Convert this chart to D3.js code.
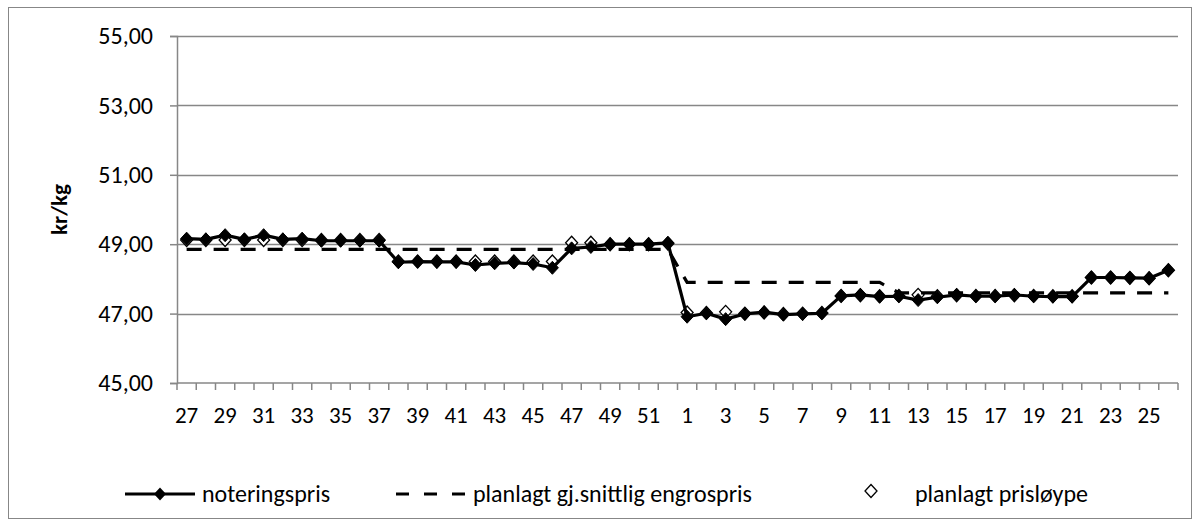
<!DOCTYPE html>
<html lang="no">
<head>
<meta charset="utf-8">
<title>Noteringspris</title>
<script src="https://cdn.jsdelivr.net/npm/d3@7"></script>
<style>
  body { margin: 0; background: #fff; }
  text { font-family: Carlito, Lato, sans-serif; fill: #000; }
</style>
</head>
<body>
<script>
// weeks: 27..52 then 1..26
var weeks = ["27","28","29","30","31","32","33","34","35","36","37","38","39","40","41","42","43","44","45","46","47","48","49","50","51","52",
             "1","2","3","4","5","6","7","8","9","10","11","12","13","14","15","16","17","18","19","20","21","22","23","24","25","26"];

var noteringspris = [49.16,49.14,49.26,49.14,49.26,49.14,49.16,49.10,49.10,49.10,49.10,48.48,48.50,48.49,48.49,48.40,48.45,48.47,48.43,48.32,48.88,48.92,49.00,49.00,49.00,49.04,
                     46.91,47.01,46.84,46.99,47.04,46.97,46.99,47.01,47.51,47.54,47.49,47.50,47.39,47.47,47.54,47.50,47.50,47.54,47.50,47.49,47.49,48.04,48.04,48.03,48.02,48.25];

var engrospris = [48.85,48.85,48.85,48.85,48.85,48.85,48.85,48.85,48.85,48.85,48.85,48.85,48.85,48.85,48.85,48.85,48.85,48.85,48.85,48.85,48.85,48.85,48.85,48.85,48.85,48.85,
                  47.90,47.90,47.90,47.90,47.90,47.90,47.90,47.90,47.90,47.90,47.90,47.60,47.60,47.60,47.60,47.60,47.60,47.60,47.60,47.60,47.60,47.60,47.60,47.60,47.60,47.60];

var prisloype = [49.12,49.12,49.12,49.12,49.12,49.12,49.12,49.12,49.12,49.12,49.12,48.50,48.50,48.50,48.50,48.50,48.50,48.50,48.50,48.50,49.04,49.04,49.00,49.00,49.00,49.02,
                 47.03,47.02,47.05,47.00,47.03,46.99,47.00,47.02,47.51,47.53,47.50,47.51,47.54,47.50,47.53,47.51,47.51,47.53,47.51,47.50,47.50,48.04,48.04,48.03,48.02,48.25];

var yTicks = [45, 47, 49, 51, 53, 55];

var w = 1200, h = 527;
var pLeft = 177, pRight = 1178, pTop = 36, pBottom = 383;
var grey = "#878787";

var locale = d3.formatLocale({decimal: ",", thousands: " ", grouping: [3], currency: ["", " kr"]});
var fmt = locale.format(".2f");

var svg = d3.select("body").append("svg").attr("width", w).attr("height", h);

// chart border
svg.append("rect").attr("x", 8.5).attr("y", 7.5).attr("width", 1183).attr("height", 511)
  .attr("fill", "#fff").attr("stroke", grey).attr("stroke-width", 1);

var x = d3.scaleBand().domain(d3.range(weeks.length)).range([pLeft, pRight]).padding(0);
var y = d3.scaleLinear().domain([45, 55]).range([pBottom, pTop]);
var cx = function(i) { return x(i) + x.bandwidth() / 2; };

// gridlines
svg.append("g").selectAll("line").data(yTicks.slice(1)).join("line")
  .attr("x1", pLeft).attr("x2", pRight)
  .attr("y1", function(d) { return Math.round(y(d)) + 0.5; })
  .attr("y2", function(d) { return Math.round(y(d)) + 0.5; })
  .attr("stroke", grey).attr("stroke-width", 1.5);

// y axis
var yAxis = d3.axisLeft(y).tickValues(yTicks).tickFormat(fmt).tickSize(7).tickPadding(17);
var gy = svg.append("g").attr("transform", "translate(" + pLeft + ",0)").call(yAxis);
gy.select(".domain").attr("stroke", grey).attr("stroke-width", 1.5);
gy.selectAll(".tick line").attr("stroke", grey).attr("stroke-width", 1.5);
gy.selectAll(".tick text").attr("font-size", 24).attr("fill", "#000")
  .style("font-family", "Carlito, Lato, sans-serif");

// x axis: ticks at category boundaries
var xb = svg.append("g").attr("transform", "translate(0," + pBottom + ")");
xb.append("line").attr("x1", pLeft).attr("x2", pRight).attr("stroke", grey).attr("stroke-width", 1.5);
xb.selectAll(".xt").data(d3.range(weeks.length + 1)).join("line").attr("class", "xt")
  .attr("x1", function(i) { return i < weeks.length ? x(i) : pRight; })
  .attr("x2", function(i) { return i < weeks.length ? x(i) : pRight; })
  .attr("y1", 0).attr("y2", 7).attr("stroke", grey).attr("stroke-width", 1.5);
xb.selectAll(".xl").data(weeks).join("text").attr("class", "xl")
  .attr("x", function(d, i) { return cx(i); })
  .attr("y", 40).attr("text-anchor", "middle").attr("font-size", 23)
  .text(function(d, i) { return i % 2 === 0 ? d : ""; });

// y title
svg.append("text").attr("transform", "translate(67," + ((pTop + pBottom) / 2) + ") rotate(-90)")
  .attr("text-anchor", "middle").attr("font-size", 23).attr("font-weight", "bold").text("kr/kg");

var diamond = "M0,-6.5L6,0L0,6.5L-6,0Z";

var line = function(vals) {
  return d3.line().x(function(d, i) { return cx(i); }).y(function(d) { return y(d); })(vals);
};

// planlagt prisløype (drawn underneath)
svg.append("g").selectAll("path").data(prisloype).join("path")
  .attr("d", diamond)
  .attr("transform", function(d, i) { return "translate(" + cx(i) + "," + y(d) + ")"; })
  .attr("fill", "#fff").attr("stroke", "#000").attr("stroke-width", 1.3);

// planlagt gj.snittlig engrospris
svg.append("path").attr("d", line(engrospris)).attr("fill", "none")
  .attr("stroke", "#000").attr("stroke-width", 3.2).attr("stroke-dasharray", "15,12");

// noteringspris
svg.append("path").attr("d", line(noteringspris)).attr("fill", "none")
  .attr("stroke", "#000").attr("stroke-width", 3.2).attr("stroke-linejoin", "round");
svg.append("g").selectAll("path").data(noteringspris).join("path")
  .attr("d", diamond)
  .attr("transform", function(d, i) { return "translate(" + cx(i) + "," + y(d) + ")"; })
  .attr("fill", "#000").attr("stroke", "#000").attr("stroke-width", 1);

// legend
var ly = 494;
var lg = svg.append("g");
lg.append("line").attr("x1", 125).attr("x2", 195).attr("y1", ly).attr("y2", ly)
  .attr("stroke", "#000").attr("stroke-width", 3.2);
lg.append("path").attr("d", diamond).attr("transform", "translate(160," + ly + ")").attr("fill", "#000");
lg.append("text").attr("x", 202).attr("y", ly + 8).attr("font-size", 24).text("noteringspris");

lg.append("line").attr("x1", 396).attr("x2", 466).attr("y1", ly).attr("y2", ly)
  .attr("stroke", "#000").attr("stroke-width", 3.2).attr("stroke-dasharray", "13,15");
lg.append("text").attr("x", 473).attr("y", ly + 8).attr("font-size", 24).text("planlagt gj.snittlig engrospris");

lg.append("path").attr("d", diamond).attr("transform", "translate(871," + (ly - 3) + ")")
  .attr("fill", "#fff").attr("stroke", "#000").attr("stroke-width", 1.3);
lg.append("text").attr("x", 915).attr("y", ly + 8).attr("font-size", 24).text("planlagt prisløype");
</script>
</body>
</html>
